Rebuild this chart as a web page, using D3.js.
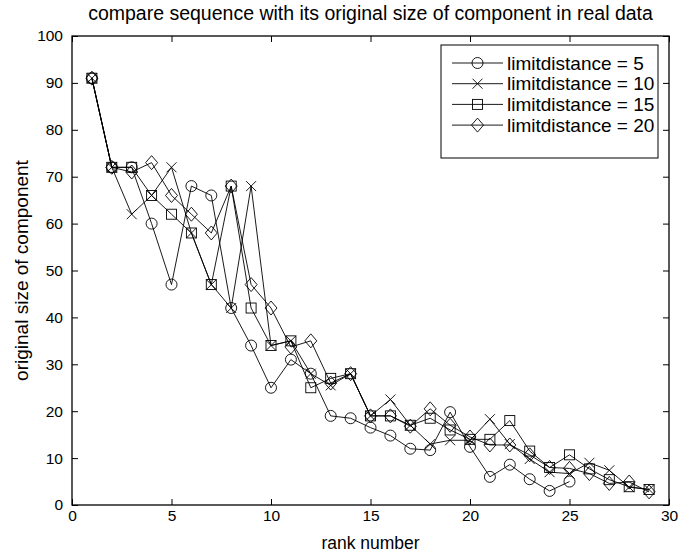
<!DOCTYPE html>
<html><head><meta charset="utf-8">
<script src="https://cdn.jsdelivr.net/npm/d3@7"></script>
<style>body{margin:0;background:#fff}svg text{font-family:"Liberation Sans",Arial,sans-serif;}</style>
</head><body>
<script>
const ranks = d3.range(1, 30);
const s5  = [91,72,72,60,47,68,66,42,34,25,31,28,19,18.5,16.5,14.8,12,11.7,19.8,12.4,6,8.6,5.5,3,5];
const s10 = [91,72,62,66,72,58,47,42,68,34,35,28,25.5,28,19,22.5,17,13,13.8,13.8,18.3,13,9.8,7,6.7,9,7.4,3.8,3.3];
const s15 = [91,72,72,66,62,58,47,68,42,34,35,25,27,28,19,19,17,18.5,16,14,14,18,11.5,8,10.7,7.7,5.4,3.9,3.3];
const s20 = [91,72,71,73,66,62,58,68,47,42,33.7,35,26,28,19,19,16.8,20.5,17,14.5,12.8,12.8,10.7,8,7.8,6.7,4.6,4.9,2.8];
const seriesNames = ["limitdistance = 5","limitdistance = 10","limitdistance = 15","limitdistance = 20"];
const seriesValues = [s5, s10, s15, s20];
const markers = ["circle","cross","square","diamond"];
const xTicks = [0,5,10,15,20,25,30];
const yTicks = [0,10,20,30,40,50,60,70,80,90,100];

const W = 681, H = 555;
const m = {l:72, r:12, t:36, b:50};
const svg = d3.select("body").append("svg").attr("width",W).attr("height",H);
const x = d3.scaleLinear().domain([0,30]).range([m.l, W-m.r]);
const y = d3.scaleLinear().domain([0,100]).range([H-m.b, m.t]);
const fsTick = 15.5, fsTitle = 19.5, fsLab = 17.5, fsYLab = 19, fsLeg = 19;

// axes
const tl = 6;
const gx = svg.append("g").attr("transform",`translate(0,${y(0)})`)
  .call(d3.axisBottom(x).tickValues(xTicks).tickSize(-tl).tickPadding(5).tickFormat(d3.format("d")));
const gxt = svg.append("g").attr("transform",`translate(0,${y(100)})`)
  .call(d3.axisTop(x).tickValues(xTicks).tickSize(-tl).tickFormat(""));
const gy = svg.append("g").attr("transform",`translate(${x(0)},0)`)
  .call(d3.axisLeft(y).tickValues(yTicks).tickSize(-tl).tickPadding(9).tickFormat(d3.format("d")));
const gyr = svg.append("g").attr("transform",`translate(${x(30)},0)`)
  .call(d3.axisRight(y).tickValues(yTicks).tickSize(-tl).tickFormat(""));
[gx,gxt,gy,gyr].forEach(g=>{
  g.select(".domain").remove();
  g.selectAll("line").attr("stroke","#000").attr("stroke-width",1);
  g.selectAll("text").attr("font-size",fsTick).attr("fill","#000").attr("font-family","Liberation Sans, Arial, sans-serif");
});
svg.append("rect").attr("x",x(0)).attr("y",y(100)).attr("width",x(30)-x(0)).attr("height",y(0)-y(100))
  .attr("fill","none").attr("stroke","#000").attr("stroke-width",1.3);

// marker drawer
function drawMarker(g, type, cx, cy){
  if(type==="circle") g.append("circle").attr("cx",cx).attr("cy",cy).attr("r",5.5).attr("fill","none").attr("stroke","#000").attr("stroke-width",0.9);
  else if(type==="square") g.append("rect").attr("x",cx-5).attr("y",cy-5).attr("width",10).attr("height",10).attr("fill","none").attr("stroke","#000").attr("stroke-width",0.9);
  else if(type==="diamond") g.append("path").attr("d",`M${cx},${cy-7}L${cx+6},${cy}L${cx},${cy+7}L${cx-6},${cy}Z`).attr("fill","none").attr("stroke","#000").attr("stroke-width",0.9);
  else g.append("path").attr("d",`M${cx-5},${cy-5}L${cx+5},${cy+5}M${cx-5},${cy+5}L${cx+5},${cy-5}`).attr("fill","none").attr("stroke","#000").attr("stroke-width",0.9);
}

const line = d3.line().x((d,i)=>x(ranks[i])).y(d=>y(d));
seriesValues.forEach((vals,k)=>{
  const g = svg.append("g");
  g.append("path").attr("d",line(vals)).attr("fill","none").attr("stroke","#000").attr("stroke-width",0.9);
  vals.forEach((v,i)=>drawMarker(g, markers[k], x(ranks[i]), y(v)));
});

// legend
const lg = svg.append("g");
const lx = 441, ly = 45, lw = 217, lh = 113;
lg.append("rect").attr("x",lx).attr("y",ly).attr("width",lw).attr("height",lh).attr("fill","#fff").attr("stroke","#000").attr("stroke-width",1);
seriesNames.forEach((n,k)=>{
  const yy = ly + 18 + k*20.7;
  lg.append("line").attr("x1",lx+11).attr("x2",lx+62).attr("y1",yy).attr("y2",yy).attr("stroke","#000").attr("stroke-width",0.9);
  drawMarker(lg, markers[k], lx+36.5, yy);
  lg.append("text").attr("x",lx+66).attr("y",yy).attr("dy","0.35em").attr("font-size",fsLeg).text(n);
});

// title and labels
svg.append("text").attr("x",(x(0)+x(30))/2).attr("y",20).attr("text-anchor","middle").attr("font-size",fsTitle).text("compare sequence with its original size of component in real data");
svg.append("text").attr("x",(x(0)+x(30))/2).attr("y",549).attr("text-anchor","middle").attr("font-size",fsLab).text("rank number");
svg.append("text").attr("transform",`translate(28,${(y(0)+y(100))/2}) rotate(-90)`).attr("text-anchor","middle").attr("font-size",fsYLab).text("original size of component");
</script>
</body></html>
